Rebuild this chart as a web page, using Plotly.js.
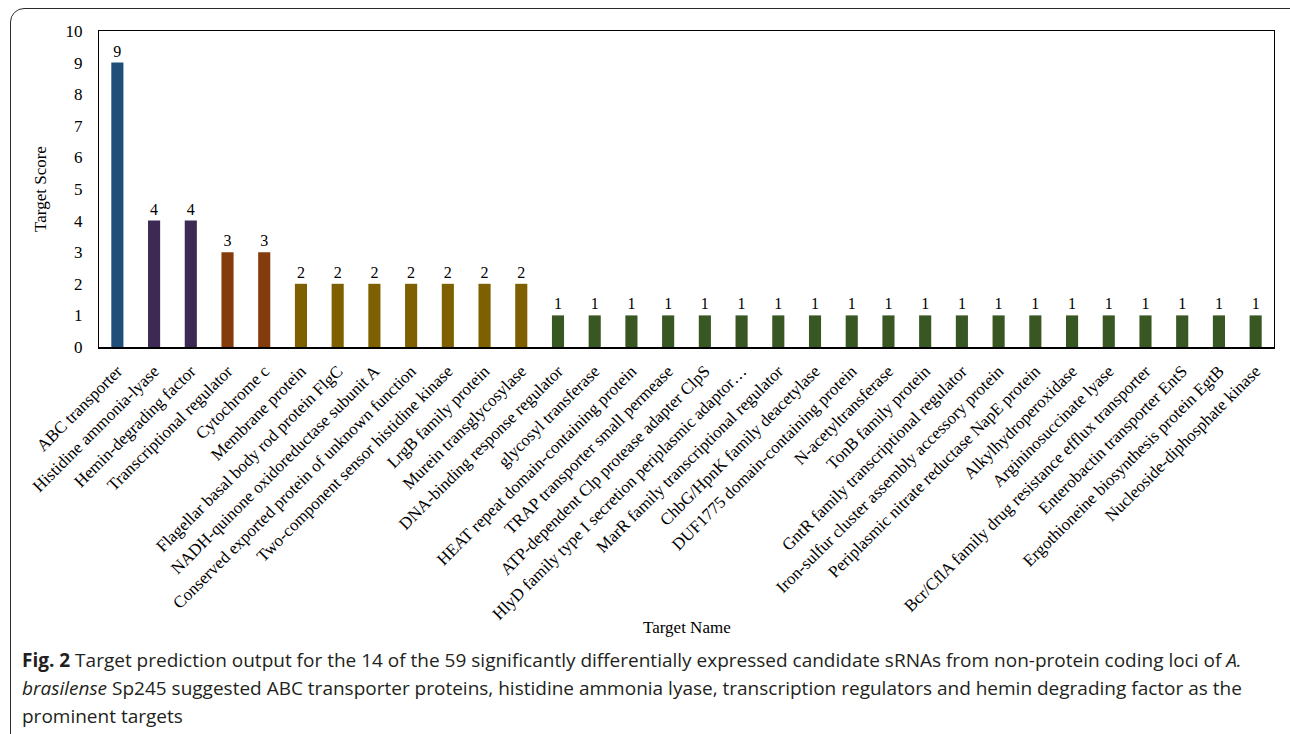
<!DOCTYPE html>
<html>
<head>
<meta charset="utf-8">
<script src="https://cdn.plot.ly/plotly-3.0.1.min.js"></script>
<style>
html,body{margin:0;padding:0;background:#fff;width:1290px;height:734px;overflow:hidden;}
#frame{position:absolute;left:10px;top:8px;width:1300px;height:760px;border:1.5px solid #2b2b2b;border-radius:14px;box-sizing:border-box;}
#chart{position:absolute;left:0;top:0;width:1290px;height:734px;}
</style>
</head>
<body>
<div id="frame"></div>
<div id="chart"></div>
<script>
const categories = [
  "ABC transporter",
  "Histidine ammonia-lyase",
  "Hemin-degrading factor",
  "Transcriptional regulator",
  "Cytochrome c",
  "Membrane protein",
  "Flagellar basal body rod protein FlgC",
  "NADH-quinone oxidoreductase subunit A",
  "Conserved exported protein of unknown function",
  "Two-component sensor histidine kinase",
  "LrgB family protein",
  "Murein transglycosylase",
  "DNA-binding response regulator",
  "glycosyl transferase",
  "HEAT repeat domain-containing protein",
  "TRAP transporter small permease",
  "ATP-dependent Clp protease adapter ClpS",
  "HlyD family type I secretion periplasmic adaptor…",
  "MarR family transcriptional regulator",
  "ChbG/HpnK family deacetylase",
  "DUF1775 domain-containing protein",
  "N-acetyltransferase",
  "TonB family protein",
  "GntR family transcriptional regulator",
  "Iron-sulfur cluster assembly accessory protein",
  "Periplasmic nitrate reductase NapE protein",
  "Alkylhydroperoxidase",
  "Argininosuccinate lyase",
  "Bcr/CflA family drug resistance efflux transporter",
  "Enterobactin transporter EntS",
  "Ergothioneine biosynthesis protein EgtB",
  "Nucleoside-diphosphate kinase"
];
const scores = [9,4,4,3,3,2,2,2,2,2,2,2,1,1,1,1,1,1,1,1,1,1,1,1,1,1,1,1,1,1,1,1];
const yTicks = [0,1,2,3,4,5,6,7,8,9,10];

const colorByScore = {9:"#1F4E79",4:"#3D2A54",3:"#843C0C",2:"#7F6000",1:"#385723"};
const barColors = scores.map(s => colorByScore[s]);

const serif = "Liberation Serif, Times New Roman, serif";
const capFont = "Open Sans, sans-serif";

const trace = {
  type: "bar",
  x: categories,
  y: scores,
  marker: {color: barColors, line: {width: 0}},
  text: scores.map(String),
  textposition: "outside",
  cliponaxis: false,
  textfont: {family: serif, size: 16, color: "#000"},
  hoverinfo: "x+y"
};

const layout = {
  width: 1290, height: 734,
  margin: {l: 99, r: 16, t: 31, b: 387, pad: 0},
  paper_bgcolor: "rgba(0,0,0,0)",
  plot_bgcolor: "rgba(0,0,0,0)",
  bargap: 0.67,
  showlegend: false,
  xaxis: {
    type: "category",
    tickangle: -45,
    tickfont: {family: serif, size: 17, color: "#000"},
    showline: true, linecolor: "#000", linewidth: 1.5, mirror: true,
    ticks: "", showgrid: false, zeroline: false,
    ticklabelstandoff: 6
  },
  yaxis: {
    range: [0, 10],
    tickvals: yTicks,
    ticktext: yTicks.map(String),
    tickfont: {family: serif, size: 17, color: "#000"},
    showline: true, linecolor: "#000", linewidth: 1, mirror: true,
    ticks: "", showgrid: false, zeroline: false,
    ticklabelstandoff: 12,
    title: {text: "Target Score", font: {family: serif, size: 17, color: "#000"}, standoff: 14}
  },
  annotations: [
    {xref: "paper", yref: "paper", x: 0.5, y: -0.889, xanchor: "center", yanchor: "middle",
     text: "Target Name", showarrow: false, font: {family: serif, size: 17, color: "#000"}},
    {xref: "paper", yref: "paper", x: -0.0672, y: -0.990, xanchor: "left", yanchor: "middle",
     text: "<b>Fig. 2</b> Target prediction output for the 14 of the 59 significantly differentially expressed candidate sRNAs from non-protein coding loci of <i>A.</i>",
     showarrow: false, align: "left", font: {family: capFont, size: 19, color: "#231f20"}},
    {xref: "paper", yref: "paper", x: -0.0672, y: -1.079, xanchor: "left", yanchor: "middle",
     text: "<i>brasilense</i> Sp245 suggested ABC transporter proteins, histidine ammonia lyase, transcription regulators and hemin degrading factor as the",
     showarrow: false, align: "left", font: {family: capFont, size: 19, color: "#231f20"}},
    {xref: "paper", yref: "paper", x: -0.0672, y: -1.168, xanchor: "left", yanchor: "middle",
     text: "prominent targets",
     showarrow: false, align: "left", font: {family: capFont, size: 19, color: "#231f20"}}
  ]
};

Plotly.newPlot("chart", [trace], layout, {displayModeBar: false, staticPlot: true});
</script>
</body>
</html>
